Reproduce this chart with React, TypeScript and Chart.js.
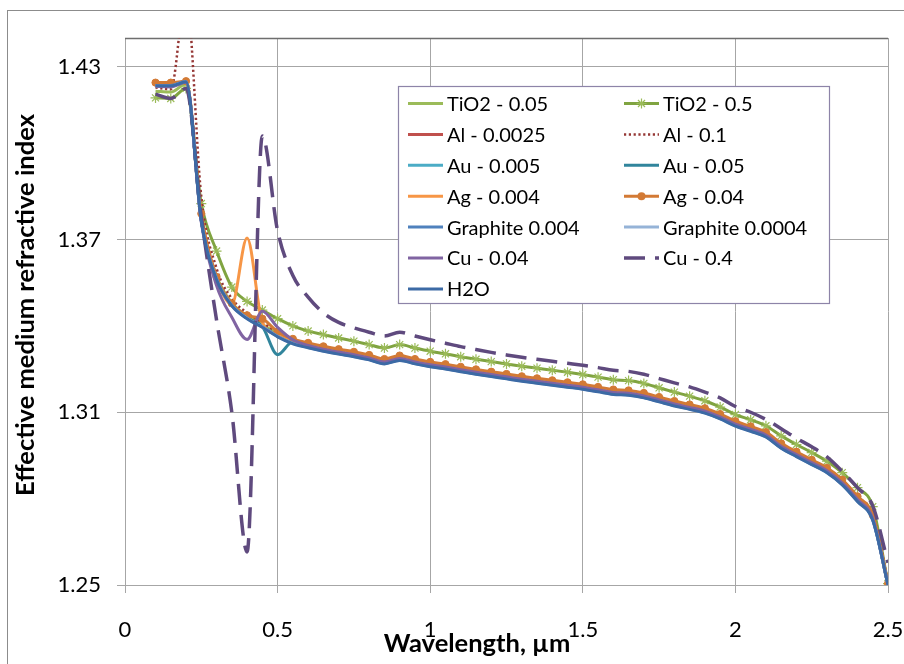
import React, { useEffect, useRef } from 'react';
import { Chart, registerables } from 'chart.js';

Chart.register(...registerables);

const WAVELENGTH = [
  0.1, 0.15, 0.2, 0.25, 0.3, 0.35, 0.4, 0.45, 0.5,
  0.55, 0.6, 0.65, 0.7, 0.75, 0.8, 0.85, 0.9, 0.95, 1.0,
  1.05, 1.1, 1.15, 1.2, 1.25, 1.3, 1.35, 1.4, 1.45, 1.5,
  1.55, 1.6, 1.65, 1.7, 1.75, 1.8, 1.85, 1.9, 1.95, 2.0,
  2.05, 2.1, 2.15, 2.2, 2.25, 2.3, 2.35, 2.4, 2.45, 2.5,
];

const X_TICKS = [0, 0.5, 1, 1.5, 2, 2.5];
const X_TICK_LABELS = ['0', '0.5', '1', '1.5', '2', '2.5'];
const Y_TICKS = [1.25, 1.31, 1.37, 1.43];
const Y_TICK_LABELS = ['1.25', '1.31', '1.37', '1.43'];

const X_TITLE = 'Wavelength, µm';
const Y_TITLE = 'Effective medium refractive index';

const TIO2_005 = [
  1.4215, 1.4212, 1.4240, 1.3775, 1.3572, 1.3480, 1.3435, 1.3405, 1.3372,
  1.3346, 1.3332, 1.3320, 1.3310, 1.3301, 1.3290, 1.3276, 1.3288, 1.3276, 1.3266,
  1.3258, 1.3249, 1.3240, 1.3232, 1.3224, 1.3216, 1.3209, 1.3202, 1.3195, 1.3188,
  1.3179, 1.3170, 1.3167, 1.3158, 1.3144, 1.3130, 1.3118, 1.3105, 1.3085, 1.3060,
  1.3042, 1.3022, 1.2983, 1.2954, 1.2926, 1.2898, 1.2856, 1.2798, 1.2733, 1.2503,
];
const TIO2_05 = [
  1.4192, 1.4190, 1.4225, 1.3825, 1.3660, 1.3535, 1.3485, 1.3455, 1.3425,
  1.3400, 1.3382, 1.3370, 1.3358, 1.3347, 1.3335, 1.3323, 1.3335, 1.3323, 1.3312,
  1.3303, 1.3293, 1.3284, 1.3276, 1.3268, 1.3260, 1.3253, 1.3246, 1.3239, 1.3231,
  1.3222, 1.3213, 1.3210, 1.3200, 1.3185, 1.3170, 1.3156, 1.3140, 1.3118, 1.3092,
  1.3074, 1.3053, 1.3018, 1.2988, 1.2960, 1.2930, 1.2890, 1.2838, 1.2772, 1.2505,
];
const AL_00025 = [
  1.4236, 1.4236, 1.4250, 1.3768, 1.3565, 1.3474, 1.3429, 1.3399, 1.3366,
  1.3342, 1.3328, 1.3316, 1.3306, 1.3297, 1.3286, 1.3272, 1.3284, 1.3272, 1.3262,
  1.3254, 1.3245, 1.3236, 1.3228, 1.3220, 1.3212, 1.3205, 1.3198, 1.3191, 1.3184,
  1.3175, 1.3166, 1.3163, 1.3154, 1.3140, 1.3126, 1.3114, 1.3101, 1.3081, 1.3056,
  1.3038, 1.3018, 1.2979, 1.2950, 1.2922, 1.2894, 1.2852, 1.2794, 1.2729, 1.2502,
];
const AL_01 = [
  1.4228, 1.4222, 1.4550, 1.3850, 1.3600, 1.3495, 1.3445, 1.3412, 1.3378,
  1.3353, 1.3338, 1.3326, 1.3316, 1.3307, 1.3296, 1.3282, 1.3294, 1.3282, 1.3272,
  1.3264, 1.3255, 1.3246, 1.3238, 1.3230, 1.3222, 1.3215, 1.3208, 1.3201, 1.3194,
  1.3185, 1.3176, 1.3173, 1.3164, 1.3150, 1.3136, 1.3124, 1.3111, 1.3091, 1.3066,
  1.3048, 1.3028, 1.2990, 1.2961, 1.2933, 1.2905, 1.2864, 1.2807, 1.2745, 1.2510,
];
const AU_0005 = [
  1.4235, 1.4235, 1.4249, 1.3767, 1.3564, 1.3473, 1.3428, 1.3398, 1.3365,
  1.3341, 1.3327, 1.3315, 1.3305, 1.3296, 1.3285, 1.3271, 1.3283, 1.3271, 1.3261,
  1.3253, 1.3244, 1.3235, 1.3227, 1.3219, 1.3211, 1.3204, 1.3197, 1.3190, 1.3183,
  1.3174, 1.3165, 1.3162, 1.3153, 1.3139, 1.3125, 1.3113, 1.3100, 1.3080, 1.3055,
  1.3037, 1.3017, 1.2978, 1.2949, 1.2921, 1.2893, 1.2851, 1.2793, 1.2728, 1.2501,
];
const AU_005 = [
  1.4234, 1.4233, 1.4247, 1.3766, 1.3562, 1.3472, 1.3427, 1.3398, 1.3300,
  1.3345, 1.3332, 1.3318, 1.3308, 1.3299, 1.3288, 1.3274, 1.3286, 1.3274, 1.3264,
  1.3256, 1.3247, 1.3238, 1.3230, 1.3222, 1.3214, 1.3207, 1.3200, 1.3193, 1.3186,
  1.3177, 1.3168, 1.3165, 1.3156, 1.3142, 1.3128, 1.3116, 1.3103, 1.3083, 1.3058,
  1.3040, 1.3020, 1.2981, 1.2952, 1.2924, 1.2896, 1.2854, 1.2796, 1.2730, 1.2500,
];
const AG_0004 = [
  1.4234, 1.4234, 1.4248, 1.3770, 1.3565, 1.3475, 1.3705, 1.3412, 1.3370,
  1.3346, 1.3332, 1.3320, 1.3310, 1.3301, 1.3290, 1.3276, 1.3288, 1.3276, 1.3266,
  1.3258, 1.3249, 1.3240, 1.3232, 1.3224, 1.3216, 1.3209, 1.3202, 1.3195, 1.3188,
  1.3179, 1.3170, 1.3167, 1.3158, 1.3144, 1.3130, 1.3118, 1.3105, 1.3085, 1.3060,
  1.3042, 1.3022, 1.2983, 1.2954, 1.2926, 1.2898, 1.2856, 1.2798, 1.2732, 1.2502,
];
const AG_004 = [
  1.4245, 1.4245, 1.4250, 1.3790, 1.3570, 1.3478, 1.3437, 1.3425, 1.3380,
  1.3355, 1.3341, 1.3329, 1.3319, 1.3310, 1.3299, 1.3285, 1.3297, 1.3285, 1.3275,
  1.3267, 1.3258, 1.3249, 1.3241, 1.3233, 1.3225, 1.3218, 1.3211, 1.3204, 1.3197,
  1.3188, 1.3179, 1.3176, 1.3167, 1.3153, 1.3139, 1.3127, 1.3114, 1.3094, 1.3069,
  1.3051, 1.3031, 1.2992, 1.2963, 1.2935, 1.2907, 1.2866, 1.2808, 1.2743, 1.2505,
];
const GRAPHITE_0004 = [
  1.4235, 1.4235, 1.4249, 1.3767, 1.3563, 1.3472, 1.3427, 1.3397, 1.3364,
  1.3340, 1.3326, 1.3314, 1.3304, 1.3295, 1.3284, 1.3270, 1.3282, 1.3270, 1.3260,
  1.3252, 1.3243, 1.3234, 1.3226, 1.3218, 1.3210, 1.3203, 1.3196, 1.3189, 1.3182,
  1.3173, 1.3164, 1.3161, 1.3152, 1.3138, 1.3124, 1.3112, 1.3099, 1.3079, 1.3054,
  1.3036, 1.3016, 1.2977, 1.2948, 1.2920, 1.2892, 1.2850, 1.2792, 1.2727, 1.2500,
];
const GRAPHITE_00004 = [
  1.4234, 1.4234, 1.4248, 1.3766, 1.3562, 1.3471, 1.3426, 1.3396, 1.3363,
  1.3339, 1.3325, 1.3313, 1.3303, 1.3294, 1.3283, 1.3269, 1.3281, 1.3269, 1.3259,
  1.3251, 1.3242, 1.3233, 1.3225, 1.3217, 1.3209, 1.3202, 1.3195, 1.3188, 1.3181,
  1.3172, 1.3163, 1.3160, 1.3151, 1.3137, 1.3123, 1.3111, 1.3098, 1.3078, 1.3053,
  1.3035, 1.3015, 1.2976, 1.2947, 1.2919, 1.2891, 1.2849, 1.2791, 1.2726, 1.2500,
];
const CU_004 = [
  1.4232, 1.4230, 1.4246, 1.3760, 1.3540, 1.3430, 1.3353, 1.3451, 1.3395,
  1.3352, 1.3332, 1.3319, 1.3309, 1.3300, 1.3289, 1.3275, 1.3287, 1.3275, 1.3265,
  1.3257, 1.3248, 1.3239, 1.3231, 1.3223, 1.3215, 1.3208, 1.3201, 1.3194, 1.3187,
  1.3178, 1.3169, 1.3166, 1.3157, 1.3143, 1.3129, 1.3117, 1.3104, 1.3084, 1.3059,
  1.3041, 1.3021, 1.2982, 1.2953, 1.2925, 1.2897, 1.2855, 1.2797, 1.2731, 1.2501,
];
const CU_04 = [
  1.4205, 1.4190, 1.4225, 1.3780, 1.3420, 1.3100, 1.2615, 1.4060, 1.3730,
  1.3575, 1.3500, 1.3445, 1.3412, 1.3393, 1.3378, 1.3365, 1.3378, 1.3365, 1.3352,
  1.3340, 1.3328, 1.3318, 1.3308, 1.3299, 1.3291, 1.3284, 1.3277, 1.3270, 1.3263,
  1.3255, 1.3246, 1.3242, 1.3232, 1.3217, 1.3202, 1.3188, 1.3170, 1.3150, 1.3120,
  1.3100, 1.3075, 1.3043, 1.3010, 1.2980, 1.2945, 1.2895, 1.2838, 1.2775, 1.2577,
];
const H2O = [
  1.4234, 1.4234, 1.4248, 1.3765, 1.3561, 1.3470, 1.3425, 1.3395, 1.3362,
  1.3338, 1.3324, 1.3312, 1.3302, 1.3293, 1.3282, 1.3268, 1.3280, 1.3268, 1.3258,
  1.3250, 1.3241, 1.3232, 1.3224, 1.3216, 1.3208, 1.3201, 1.3194, 1.3187, 1.3180,
  1.3171, 1.3162, 1.3159, 1.3150, 1.3136, 1.3122, 1.3110, 1.3097, 1.3077, 1.3052,
  1.3034, 1.3014, 1.2975, 1.2946, 1.2918, 1.2890, 1.2848, 1.2790, 1.2725, 1.2500,
];

const SERIES_LABELS = [
  'TiO2 - 0.05', 'TiO2 - 0.5', 'Al - 0.0025', 'Al - 0.1', 'Au - 0.005', 'Au - 0.05',
  'Ag - 0.004', 'Ag - 0.04', 'Graphite 0.004', 'Graphite 0.0004', 'Cu - 0.04', 'Cu - 0.4', 'H2O',
];
const SERIES_VALUES = [
  TIO2_005, TIO2_05, AL_00025, AL_01, AU_0005, AU_005,
  AG_0004, AG_004, GRAPHITE_0004, GRAPHITE_00004, CU_004, CU_04, H2O,
];

type Style = {
  color: string;
  width: number;
  dash?: number[];
  marker?: 'star' | 'circle';
  markerColor?: string;
};
const STYLES: Style[] = [
  { color: '#9BBB59', width: 3 },
  { color: '#80A441', width: 3, marker: 'star', markerColor: '#9BBB59' },
  { color: '#C0504D', width: 3 },
  { color: '#953735', width: 2.5, dash: [2.2, 2.6] },
  { color: '#4BACC6', width: 3 },
  { color: '#31859C', width: 3 },
  { color: '#F79646', width: 3 },
  { color: '#D37A35', width: 3, marker: 'circle', markerColor: '#D37A35' },
  { color: '#4F81BD', width: 3 },
  { color: '#95B3D7', width: 3 },
  { color: '#8064A2', width: 3 },
  { color: '#5F4A7E', width: 3.5, dash: [21, 10] },
  { color: '#3C6AA5', width: 3 },
];

const FONT = 'Lato';

function drawMarker(ctx: CanvasRenderingContext2D, st: Style, x: number, y: number) {
  if (st.marker === 'star') {
    const r = 5;
    ctx.save();
    ctx.strokeStyle = st.markerColor || st.color;
    ctx.lineWidth = 1.2;
    ctx.beginPath();
    ctx.moveTo(x - r, y); ctx.lineTo(x + r, y);
    ctx.moveTo(x, y - r); ctx.lineTo(x, y + r);
    const d = r * 0.707;
    ctx.moveTo(x - d, y - d); ctx.lineTo(x + d, y + d);
    ctx.moveTo(x - d, y + d); ctx.lineTo(x + d, y - d);
    ctx.stroke();
    ctx.restore();
  } else if (st.marker === 'circle') {
    ctx.save();
    ctx.fillStyle = st.markerColor || st.color;
    ctx.beginPath();
    ctx.arc(x, y, 4, 0, Math.PI * 2);
    ctx.fill();
    ctx.restore();
  }
}

const framePlugin = {
  id: 'excelFrame',
  beforeDraw(chart: any) {
    const ctx = chart.ctx as CanvasRenderingContext2D;
    ctx.save();
    ctx.fillStyle = '#ffffff';
    ctx.fillRect(0, 0, chart.width, chart.height);
    ctx.strokeStyle = '#8c8c8c';
    ctx.lineWidth = 1;
    ctx.strokeRect(7.5, 10.5, chart.width + 20, chart.height + 20);
    ctx.restore();
  },
  beforeDatasetsDraw(chart: any) {
    const ctx = chart.ctx as CanvasRenderingContext2D;
    const a = chart.chartArea;
    ctx.save();
    ctx.strokeStyle = '#6e6e6e';
    ctx.lineWidth = 1.5;
    ctx.beginPath();
    ctx.moveTo(a.left, a.top + 0.5);
    ctx.lineTo(a.right, a.top + 0.5);
    ctx.stroke();
    ctx.restore();
  },
  afterDatasetsDraw(chart: any) {
    const ctx = chart.ctx as CanvasRenderingContext2D;
    ctx.save();
    // legend box
    const bx = 398.5, by = 86.5, bw = 431, bh = 217;
    ctx.fillStyle = '#ffffff';
    ctx.fillRect(bx, by, bw, bh);
    ctx.strokeStyle = '#8d84a8';
    ctx.lineWidth = 1.2;
    ctx.strokeRect(bx, by, bw, bh);
    ctx.font = `20px ${FONT}`;
    ctx.textBaseline = 'middle';
    ctx.textAlign = 'left';
    SERIES_LABELS.forEach((label, i) => {
      const st = STYLES[i];
      const row = Math.floor(i / 2);
      const col = i % 2;
      const cy = 103.5 + row * 30.9;
      const lx = col === 0 ? 408 : 624;
      ctx.save();
      ctx.strokeStyle = st.color;
      ctx.lineWidth = st.width;
      ctx.setLineDash(st.dash || []);
      ctx.beginPath();
      ctx.moveTo(lx, cy);
      ctx.lineTo(lx + 35, cy);
      ctx.stroke();
      ctx.restore();
      drawMarker(ctx, st, lx + 17.5, cy);
      ctx.fillStyle = '#000000';
      ctx.fillText(label, lx + 39, cy + 1);
    });
    // axis titles
    ctx.fillStyle = '#000000';
    ctx.font = `bold 25.5px ${FONT}`;
    ctx.textAlign = 'center';
    ctx.textBaseline = 'alphabetic';
    ctx.fillText(X_TITLE, 477, 652);
    ctx.save();
    ctx.translate(34, 305);
    ctx.rotate(-Math.PI / 2);
    ctx.fillText(Y_TITLE, 0, 0);
    ctx.restore();
    ctx.restore();
  },
};

export default function App() {
  const ref = useRef<HTMLCanvasElement>(null);
  useEffect(() => {
    if (!ref.current) return;
    const datasets = SERIES_LABELS.map((label, i) => {
      const st = STYLES[i];
      const vals = SERIES_VALUES[i];
      return {
        label,
        data: WAVELENGTH.map((x, j) => ({ x, y: vals[j] })),
        borderColor: st.color,
        backgroundColor: st.markerColor || st.color,
        borderWidth: st.width,
        borderDash: st.dash || [],
        cubicInterpolationMode: 'monotone' as const,
        pointRadius: st.marker ? (st.marker === 'star' ? 5 : 3.6) : 0,
        pointStyle: st.marker === 'star' ? 'star' : 'circle',
        pointBorderColor: st.markerColor || st.color,
        pointBackgroundColor: st.markerColor || st.color,
        pointBorderWidth: st.marker === 'star' ? 1.2 : 1,
        order: SERIES_LABELS.length - i,
      };
    });
    const chart = new Chart(ref.current, {
      type: 'line',
      data: { datasets },
      plugins: [framePlugin],
      options: {
        responsive: false,
        animation: false,
        events: [],
        layout: { padding: { left: 0, top: 38, right: 16, bottom: 0 } },
        plugins: { legend: { display: false }, tooltip: { enabled: false } },
        scales: {
          x: {
            type: 'linear',
            min: 0,
            max: 2.5,
            afterBuildTicks: (s: any) => { s.ticks = X_TICKS.map((v) => ({ value: v })); },
            afterFit: (s: any) => { s.height = 79; s.paddingLeft = 0; s.paddingRight = 0; },
            grid: { color: '#a6a6a6', lineWidth: 1, tickLength: 8, drawTicks: true },
            border: { display: true, color: '#a6a6a6' },
            ticks: {
              font: { family: FONT, size: 22 },
              color: '#000000',
              padding: 24,
              maxRotation: 0,
              autoSkip: false,
              callback: (v: any) => {
                const k = X_TICKS.indexOf(Number(v));
                return k >= 0 ? X_TICK_LABELS[k] : '';
              },
            },
          },
          y: {
            type: 'linear',
            min: 1.25,
            max: 1.44,
            afterBuildTicks: (s: any) => { s.ticks = Y_TICKS.map((v) => ({ value: v })); },
            afterFit: (s: any) => { s.width = 125; s.paddingTop = 0; s.paddingBottom = 0; },
            grid: { color: '#a6a6a6', lineWidth: 1, tickLength: 8, drawTicks: true },
            border: { display: true, color: '#a6a6a6' },
            ticks: {
              font: { family: FONT, size: 22 },
              color: '#000000',
              padding: 16,
              autoSkip: false,
              callback: (v: any) => {
                const k = Y_TICKS.findIndex((t) => Math.abs(t - Number(v)) < 1e-9);
                return k >= 0 ? Y_TICK_LABELS[k] : '';
              },
            },
          },
        },
      } as any,
    });
    return () => chart.destroy();
  }, []);
  return (
    <div style={{ position: 'absolute', left: 0, top: 0, width: 904, height: 664, background: '#fff', overflow: 'hidden' }}>
      <canvas ref={ref} width={904} height={664} style={{ width: 904, height: 664, display: 'block' }} />
    </div>
  );
}
